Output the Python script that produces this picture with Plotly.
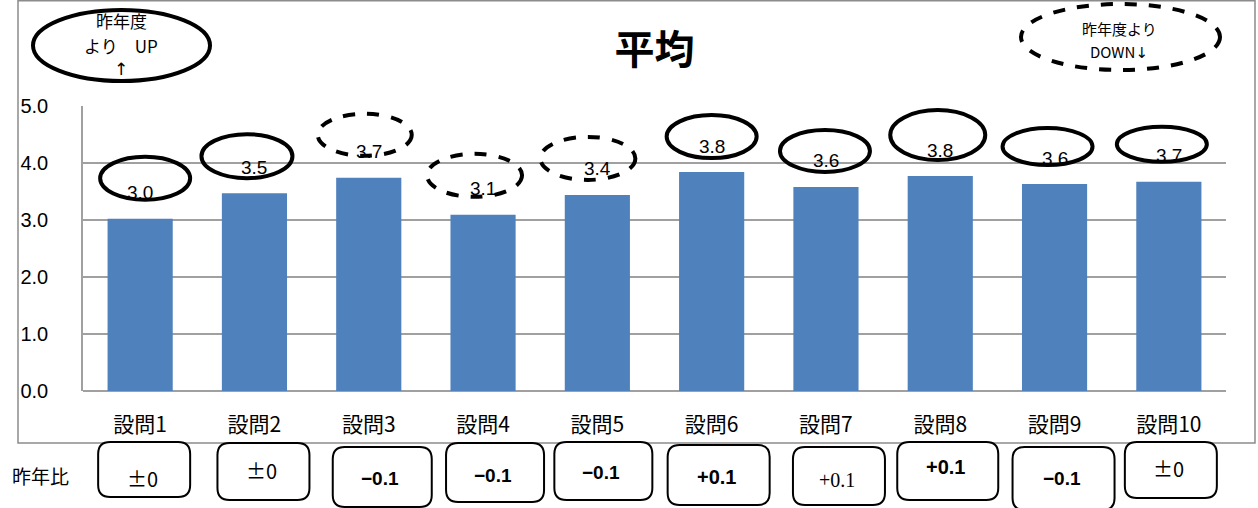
import plotly.graph_objects as go

categories = ["設問1", "設問2", "設問3", "設問4", "設問5", "設問6", "設問7", "設問8", "設問9", "設問10"]
values = [3.02, 3.47, 3.74, 3.09, 3.44, 3.84, 3.58, 3.77, 3.63, 3.67]
changes = ["±0", "±0", "−0.1", "−0.1", "−0.1", "+0.1", "+0.1", "+0.1", "−0.1", "±0"]
y_ticks = [0, 1, 2, 3, 4, 5]

W, H = 1258, 508
ML, MR, MT, MB = 83, 32, 106, 117
PW, PH = W - ML - MR, H - MT - MB

def px(x):
    return (x - ML) / PW

def py(y):
    return (H - MB - y) / PH

BLUE = "#4F81BD"
JP = "Noto Sans CJK JP"
GRID = "#a0a0a0"

fig = go.Figure()
fig.add_trace(go.Bar(x=categories, y=values, marker=dict(color=BLUE, line=dict(width=0)),
                     width=0.57, hoverinfo="skip"))

shapes = []
annotations = []

# outer chart border
shapes.append(dict(type="rect", xref="paper", yref="paper", x0=px(18), x1=px(1255), y0=py(443), y1=py(0.8),
                   line=dict(color="#8c8c8c", width=1.5), fillcolor="rgba(0,0,0,0)", layer="below"))

# value labels
for i, v in enumerate(values):
    annotations.append(dict(x=categories[i], y=v, xref="x", yref="y", text=f"{v:.1f}", showarrow=False,
                            xanchor="center", yanchor="middle", yshift=26,
                            font=dict(family="Liberation Sans", size=19, color="black")))

# ellipses around labels (pixel offsets relative to bar top)
ell = [(-40, 50, 19, 62, "solid"), (-53, 38, 15, 59, "solid"), (-51, 43, 22, 64, "dash"),
       (-56, 39, 18, 61, "dash"), (-57, 38, 15, 58, "dash"), (-45, 45, 14, 57, "solid"),
       (-46, 44, 15, 57, "solid"), (-50, 45, 16, 66, "solid"), (-52, 38, 19, 56, "solid"),
       (-52, 38, 20, 55, "solid")]
for i, (a, b, c, d, dash) in enumerate(ell):
    shapes.append(dict(type="circle", xref="x", yref="y", xsizemode="pixel", ysizemode="pixel",
                       xanchor=i, yanchor=values[i], x0=a, x1=b, y0=c, y1=d,
                       line=dict(color="black", width=4, dash=dash)))

# rounded boxes under categories (pixel offsets relative to category centre and baseline)
boxes = [(-42, 50, -51, -106, -87), (-37, 55, -52, -109, -79), (-36, 63, -56, -116, -87),
         (-37, 61, -52, -111, -84), (-43, 55, -51, -109, -81), (-44, 58, -54, -114, -86),
         (-33, 59, -56, -114, -89), (-43, 58, -51, -109, -76), (-42, 60, -56, -119, -87),
         (-44, 48, -51, -107, -77)]

def rrect(x0, x1, ytop, ybot, r=12):
    return (f"M{x0+r},{ytop} L{x1-r},{ytop} Q{x1},{ytop} {x1},{ytop-r} L{x1},{ybot+r} "
            f"Q{x1},{ybot} {x1-r},{ybot} L{x0+r},{ybot} Q{x0},{ybot} {x0},{ybot+r} "
            f"L{x0},{ytop-r} Q{x0},{ytop} {x0+r},{ytop} Z")

styles = [(JP, False, 20), (JP, False, 20), ("Liberation Sans", True, 19),
          ("Liberation Sans", True, 19), ("Liberation Sans", True, 19),
          ("Liberation Sans", True, 20), ("Liberation Serif", False, 20), ("Liberation Sans", True, 20),
          ("Liberation Sans", True, 19), (JP, False, 20)]
for i, (a, b, t, bt, ty) in enumerate(boxes):
    shapes.append(dict(type="path", xref="x", yref="paper", xsizemode="pixel", ysizemode="pixel",
                       xanchor=i, yanchor=0, path=rrect(a, b, t, bt),
                       line=dict(color="black", width=2), fillcolor="white"))
    fam, bold, sz = styles[i]
    txt = f"<b>{changes[i]}</b>" if bold else changes[i]
    annotations.append(dict(x=categories[i], y=0, xref="x", yref="paper", text=txt, showarrow=False,
                            xanchor="center", yanchor="middle",
                            xshift=(a + b) / 2 - 2, yshift=ty,
                            font=dict(family=fam, size=sz, color="black")))

annotations.append(dict(x=px(40), y=py(475), xref="paper", yref="paper", text="昨年比", showarrow=False,
                        xanchor="center", yanchor="middle",
                        font=dict(family=JP, size=19, color="black")))

# legend ellipses
shapes.append(dict(type="circle", xref="paper", yref="paper", x0=px(33), x1=px(210), y0=py(81), y1=py(10),
                   line=dict(color="black", width=4)))
for txt, yy, fam in [("昨年度", 21, JP), ("より　UP", 45, JP), ("↑", 69, "DejaVu Sans")]:
    annotations.append(dict(x=px(121), y=py(yy), xref="paper", yref="paper", text=txt, showarrow=False,
                            xanchor="center", yanchor="middle",
                            font=dict(family=fam, size=17, color="black")))
shapes.append(dict(type="circle", xref="paper", yref="paper", x0=px(1021), x1=px(1220), y0=py(70), y1=py(4),
                   line=dict(color="black", width=4, dash="dash")))
for txt, yy in [("昨年度より", 28), ("DOWN<span style='font-family:DejaVu Sans'>↓</span>", 51)]:
    annotations.append(dict(x=px(1119), y=py(yy), xref="paper", yref="paper", text=txt, showarrow=False,
                            xanchor="center", yanchor="middle",
                            font=dict(family=JP, size=15, color="black")))

fig.update_layout(
    width=W, height=H, margin=dict(l=ML, r=MR, t=MT, b=MB),
    paper_bgcolor="white", plot_bgcolor="white", showlegend=False,
    title=dict(text="<b>平均</b>", x=0.5, xref="paper", xanchor="center", y=1 - 50 / H, yanchor="middle",
               font=dict(family=JP, size=40, color="black")),
    xaxis=dict(showgrid=False, showline=False, ticks="", tickfont=dict(family=JP, size=21, color="black"),
               ticklabelstandoff=19, fixedrange=True),
    yaxis=dict(range=[0, 5], tickvals=y_ticks, ticktext=[f"{t:.1f}" for t in y_ticks],
               showgrid=True, gridcolor=GRID, gridwidth=1.5, zeroline=True, zerolinecolor=GRID,
               zerolinewidth=1.5, showline=True, linecolor=GRID, linewidth=1.5, ticks="",
               tickfont=dict(family="Liberation Sans", size=20, color="black"), ticklabelstandoff=29,
               fixedrange=True),
    shapes=shapes, annotations=annotations,
)

fig.write_html("out.html", config={"displayModeBar": False},
               post_script="document.body.style.margin='0';")
